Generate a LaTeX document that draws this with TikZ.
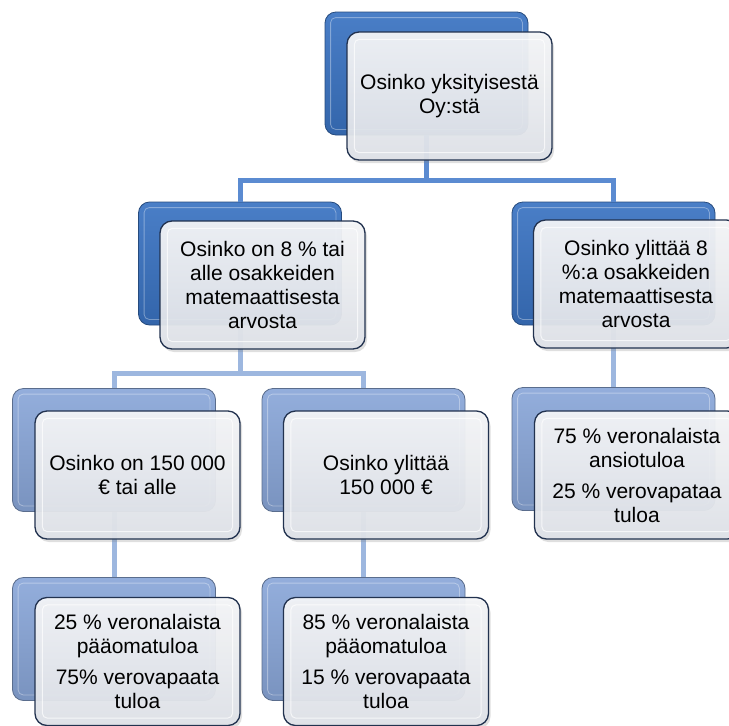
\documentclass[tikz,border=0pt]{standalone}
\usepackage{fontspec}
\setmainfont{Liberation Sans}
\usetikzlibrary{shadows}
\definecolor{bluehi}{HTML}{3A73C2}
\definecolor{bluelo}{HTML}{8AA7D9}
\definecolor{conntop}{HTML}{5B8BD1}
\definecolor{connlow}{HTML}{9DB7DF}
\definecolor{frameC}{HTML}{22324F}
\definecolor{faceT}{HTML}{F5F6F8}
\definecolor{faceB}{HTML}{DFE2E8}
\begin{document}
\begin{tikzpicture}[x=1pt,y=-1pt,
  backbox/.style={rectangle, rounded corners=11pt, minimum width=203pt, minimum height=123pt,
    inner sep=0pt, draw=#1!65!black, line width=0.8pt,
    top color=#1!92!white, middle color=#1, bottom color=#1!88!black},
  frontbox/.style={rectangle, rounded corners=12pt, minimum width=205pt, minimum height=128pt,
    inner sep=2pt, draw=frameC, line width=1.3pt, top color=faceT, bottom color=faceB,
    fill opacity=0.94, text opacity=1, align=center,
    font=\fontsize{21}{24}\selectfont,
    drop shadow={opacity=0.25, shadow xshift=2pt, shadow yshift=-3pt}},
  bevel/.style={draw=white, line width=1pt, rounded corners=5pt, opacity=0.7},
  backbevel/.style={draw=white, line width=0.8pt, rounded corners=5pt, opacity=0.35},
  conn/.style={line width=5pt, draw=#1}
]
\useasboundingbox (0,0) rectangle (729,726);
\clip (0,0) rectangle (729,726);
\fill[white] (0,0) rectangle (729,726);

% back boxes
\node[backbox=bluehi] (tb)   at (426.5,73.5) {};
\node[backbox=bluehi] (l2lb) at (240,263.5) {};
\node[backbox=bluehi] (l2rb) at (613.5,263.5) {};
\node[backbox=bluelo] (l3lb) at (114,450) {};
\node[backbox=bluelo] (l3mb) at (363.5,450) {};
\node[backbox=bluelo] (l3rb) at (613.5,449) {};
\node[backbox=bluelo] (l4lb) at (114,639) {};
\node[backbox=bluelo] (l4mb) at (363.5,639) {};
\foreach \b in {tb,l2lb,l2rb,l3lb,l3mb,l3rb,l4lb,l4mb}
  \draw[backbevel] ([shift={(6,6)}]\b.north west) rectangle ([shift={(-6,-6)}]\b.south east);

% connectors
\coordinate (j1) at (426.5,180);
\coordinate (j2) at (240,373);
\draw[conn=conntop] (tb.south) -- (j1);
\draw[conn=conntop] (l2lb.north) -- (l2lb.north |- j1) -- (l2rb.north |- j1) -- (l2rb.north);
\draw[conn=connlow] (l2lb.south) -- (j2);
\draw[conn=connlow] (l3lb.north) -- (l3lb.north |- j2) -- (l3mb.north |- j2) -- (l3mb.north);
\draw[conn=connlow] (l2rb.south) -- (l3rb.north);
\draw[conn=connlow] (l3lb.south) -- (l4lb.north);
\draw[conn=connlow] (l3mb.south) -- (l4mb.north);

% front boxes
\node[frontbox] (tf)   at (449.5,96)  {Osinko yksityisestä\\Oy:stä};
\node[frontbox] (l2lf) at (262.5,285) {Osinko on 8 \% tai\\alle osakkeiden\\matemaattisesta\\arvosta};
\node[frontbox] (l2rf) at (636,284)   {Osinko ylittää 8\\\%:a osakkeiden\\matemaattisesta\\arvosta};
\node[frontbox] (l3lf) at (137.5,475) {Osinko on 150 000\\€ tai alle};
\node[frontbox] (l3mf) at (386,475)   {Osinko ylittää\\150 000 €};
\node[frontbox] (l3rf) at (637,475)   {75 \% veronalaista\\ansiotuloa\\[7pt]25 \% verovapataa\\tuloa};
\node[frontbox] (l4lf) at (137.5,661.5) {25 \% veronalaista\\pääomatuloa\\[7pt]75\% verovapaata\\tuloa};
\node[frontbox] (l4mf) at (386,661.5)   {85 \% veronalaista\\pääomatuloa\\[7pt]15 \% verovapaata\\tuloa};
\foreach \f in {tf,l2lf,l2rf,l3lf,l3mf,l3rf,l4lf,l4mf}
  \draw[bevel] ([shift={(8,8)}]\f.north west) rectangle ([shift={(-8,-8)}]\f.south east);
\end{tikzpicture}
\end{document}
